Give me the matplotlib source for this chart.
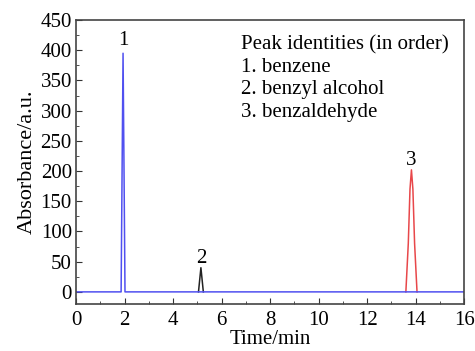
import matplotlib
matplotlib.use("Agg")
import matplotlib.pyplot as plt
from matplotlib.ticker import MultipleLocator

plt.rcParams['font.family'] = ['Liberation Serif', 'DejaVu Serif']

# chromatogram traces (time in min, absorbance in a.u.)
benzene_t = [0.0, 1.86, 1.90, 1.94, 1.98, 2.02, 16.0]
benzene_a = [0, 0, 200, 395, 200, 0, 0]
alcohol_t = [5.05, 5.10, 5.15, 5.20, 5.25]
alcohol_a = [0, 20, 40, 20, 0]
aldehyde_t = [13.60, 13.70, 13.77, 13.83, 13.89, 13.96, 14.06]
aldehyde_a = [0, 80, 170, 202, 170, 80, 0]

peak_labels = ['1', '2', '3']
peak_times = [1.94, 5.15, 13.83]
peak_heights = [395, 40, 202]
compounds = ['benzene', 'benzyl alcohol', 'benzaldehyde']

fig = plt.figure(figsize=(4.75, 3.51), dpi=100)
ax = fig.add_axes([0.16, 0.134, 0.817, 0.809])

ax.plot(alcohol_t, alcohol_a, color='#222222', lw=1.1)
ax.plot(aldehyde_t, aldehyde_a, color='#e8474a', lw=1.1)
ax.plot(benzene_t, benzene_a, color='#5050f0', lw=1.1)

# peak numbers sit just above each apex
gaps = [14, 8, 8]
for lab, t, h, g in zip(peak_labels, peak_times, peak_heights, gaps):
    ax.text(t, h + g, lab, ha='center', va='baseline', fontsize=15)

legend_lines = ['Peak identities (in order)'] + \
    ['%d. %s' % (i + 1, c) for i, c in enumerate(compounds)]
for i, line in enumerate(legend_lines):
    ax.annotate(line, xy=(6.8, 402), xytext=(0, -16.2 * i),
                textcoords='offset points', ha='left', va='baseline',
                fontsize=15)

ax.set_xlim(0, 16)
ax.set_ylim(-20, 450)
ax.xaxis.set_major_locator(MultipleLocator(2))
ax.xaxis.set_minor_locator(MultipleLocator(1))
ax.yaxis.set_major_locator(MultipleLocator(50))
ax.yaxis.set_minor_locator(MultipleLocator(25))
ax.tick_params(which='both', direction='in', labelsize=15, color='#333333')
ax.tick_params(which='major', length=4, pad=3)
ax.tick_params(which='minor', length=2)
ax.tick_params(axis='x', which='major', pad=5)
for s in ax.spines.values():
    s.set_color('#444444')
    s.set_linewidth(1.2)

ax.set_xlabel('Time/min', fontsize=15, labelpad=0)
ax.set_ylabel('Absorbance/a.u.', fontsize=16, labelpad=3)

fig.savefig('out.png', dpi=100)
